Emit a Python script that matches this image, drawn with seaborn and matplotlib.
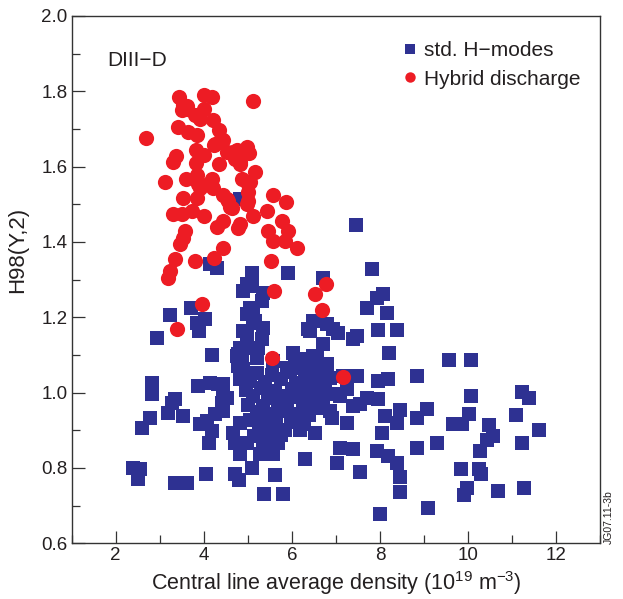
import matplotlib
matplotlib.use("Agg")
import matplotlib.pyplot as plt
from matplotlib.lines import Line2D
from matplotlib.ticker import MultipleLocator, FormatStrFormatter
import seaborn as sns
import pandas as pd

# ---- data ----
hmode_density = [
    7.46, 4.14, 4.30, 5.09, 4.98, 4.88, 5.09, 5.34, 5.32, 5.05, 4.98, 5.12, 5.16, 5.12, 4.88, 4.98,
    5.34, 5.32, 5.91, 6.71, 3.23, 3.71, 4.03, 3.85, 3.89, 2.94, 4.82, 6.48, 6.37, 6.80, 7.05, 7.39,
    7.82, 8.07, 7.93, 7.71, 8.16, 7.96, 8.39, 8.21, 4.19, 4.77, 4.86, 4.88, 4.82, 5.21, 5.23, 4.82,
    5.12, 4.75, 4.77, 6.03, 6.25, 6.41, 6.71, 6.94, 6.57, 6.80, 6.07, 5.89, 6.18, 6.41, 6.48, 6.64,
    6.87, 7.32, 7.16, 7.48, 7.96, 8.18, 8.84, 9.57, 10.07, 7.48, 5.57,
    3.87, 4.14, 4.32, 4.44, 4.53, 4.41, 4.25, 4.07, 3.91, 4.19, 4.12, 2.82, 2.82, 3.35, 3.28, 3.19,
    3.53, 2.78, 2.60, 4.82, 4.66, 4.71, 4.82, 4.98, 5.28, 5.57, 5.57, 6.30, 6.53, 7.03, 7.09, 7.39,
    2.39, 2.55, 2.51, 3.35, 3.62, 4.05, 4.71, 4.80, 5.09, 5.62, 5.37, 5.80, 4.44, 4.44, 6.64, 6.71,
    6.87, 6.94, 6.75, 7.09, 7.25, 7.71, 7.96, 7.39, 7.55, 8.12, 8.46, 8.39, 8.84, 9.07, 8.05, 6.91,
    7.25, 7.93, 8.18, 8.39, 7.55, 8.46, 8.46, 8.84, 9.30, 8.00, 9.09, 10.07, 11.23, 11.39, 10.02,
    9.66, 9.86, 10.48, 10.57, 10.43, 10.27, 11.10, 11.62, 11.23, 9.84, 10.25, 10.30, 9.98, 9.91,
    10.69, 11.28,
    5.20, 5.55, 5.95, 6.30, 6.50, 5.05, 5.40, 5.75, 6.10, 6.42, 4.95, 5.30, 5.62, 6.00, 6.33, 6.58,
    5.12, 5.45, 5.82, 6.15, 6.45, 5.00, 5.35, 5.68, 5.88, 6.25, 6.55, 5.20, 5.52, 5.80, 6.12, 6.40,
    5.05, 5.35, 5.65, 5.98, 6.28, 5.25, 5.55, 5.85, 6.18, 5.15, 5.45, 5.75, 5.35, 5.68,
]
hmode_h98 = [
    1.444, 1.341, 1.330, 1.317, 1.288, 1.269, 1.283, 1.264, 1.243, 1.225, 1.209, 1.209, 1.190, 1.185, 1.164, 1.156,
    1.172, 1.142, 1.317, 1.304, 1.206, 1.225, 1.195, 1.185, 1.164, 1.145, 1.513, 1.190, 1.169, 1.182, 1.158, 1.142,
    1.328, 1.262, 1.251, 1.225, 1.211, 1.166, 1.166, 1.105, 1.100, 1.103, 1.084, 1.063, 1.037, 1.092, 1.119, 1.119,
    1.119, 1.097, 1.071, 1.105, 1.090, 1.164, 1.129, 1.169, 1.092, 1.076, 1.084, 1.066, 1.066, 1.084, 1.097, 1.050,
    1.039, 1.045, 1.045, 1.045, 1.031, 1.037, 1.045, 1.087, 1.087, 1.150, 1.084,
    1.018, 1.026, 1.023, 1.005, 0.986, 0.973, 0.944, 0.925, 0.918, 0.899, 0.867, 1.026, 0.997, 0.984, 0.973, 0.947,
    0.939, 0.933, 0.907, 0.920, 0.894, 0.865, 0.838, 0.867, 0.838, 0.838, 0.865, 0.825, 0.894, 0.814, 0.854, 0.851,
    0.801, 0.798, 0.772, 0.759, 0.761, 0.783, 0.785, 0.767, 0.801, 0.780, 0.732, 0.732, 1.023, 0.952, 1.013, 0.970,
    0.952, 0.997, 1.005, 0.992, 1.010, 0.986, 0.984, 0.965, 0.970, 0.939, 0.955, 0.920, 0.933, 0.957, 0.894, 0.933,
    0.920, 0.846, 0.833, 0.814, 0.788, 0.777, 0.735, 0.854, 0.867, 0.679, 0.695, 0.992, 1.002, 0.986, 0.944,
    0.918, 0.918, 0.915, 0.886, 0.873, 0.846, 0.941, 0.902, 0.865, 0.798, 0.798, 0.785, 0.748, 0.727,
    0.740, 0.746,
    1.052, 1.048, 1.055, 1.050, 1.060, 1.030, 1.028, 1.035, 1.025, 1.030, 1.008, 1.012, 1.005, 1.010, 1.003, 0.998,
    0.990, 0.985, 0.992, 0.988, 0.980, 0.968, 0.965, 0.970, 0.975, 0.966, 0.958, 0.948, 0.944, 0.950, 0.942, 0.940,
    0.928, 0.925, 0.930, 0.922, 0.918, 0.905, 0.908, 0.902, 0.900, 0.885, 0.882, 0.888, 0.862, 0.866,
]

hybrid_density = [
    2.69, 3.44, 4.00, 4.19, 5.12, 3.53, 3.62, 4.00, 3.41, 3.64, 3.85, 4.21, 4.35, 4.39, 4.23, 3.82,
    4.00, 3.37, 3.30, 3.82, 4.35, 4.62, 4.75, 4.71, 4.82, 4.98, 5.03, 5.16, 3.12, 3.60, 3.85, 3.87,
    3.91, 4.19, 4.10, 4.86, 5.05, 5.00, 5.00, 4.21, 4.44, 4.55, 3.53, 3.85, 3.30, 3.51, 3.73, 4.00,
    4.60, 5.57, 5.87, 5.44, 5.12, 4.44, 4.30, 4.82, 4.77, 5.78, 5.46, 5.57, 5.91, 5.84, 6.11, 3.57,
    3.53, 3.46, 3.35, 3.23, 3.19, 3.80, 4.23, 4.44, 5.53, 5.60, 6.53, 6.78, 3.96, 3.39, 6.69, 5.55,
    7.16, 3.51, 3.62, 3.80, 3.91, 4.25, 4.44, 4.53, 4.66, 4.82, 4.98, 5.00, 4.53, 4.64,
]
hybrid_h98 = [
    1.677, 1.785, 1.790, 1.785, 1.775, 1.764, 1.754, 1.754, 1.706, 1.693, 1.685, 1.725, 1.698, 1.674, 1.658, 1.645,
    1.632, 1.629, 1.613, 1.611, 1.608, 1.635, 1.645, 1.619, 1.608, 1.653, 1.637, 1.587, 1.560, 1.566, 1.579, 1.555,
    1.542, 1.568, 1.555, 1.568, 1.560, 1.534, 1.508, 1.542, 1.526, 1.508, 1.516, 1.516, 1.473, 1.473, 1.481, 1.468,
    1.494, 1.526, 1.505, 1.481, 1.468, 1.455, 1.441, 1.449, 1.436, 1.457, 1.428, 1.402, 1.428, 1.402, 1.383, 1.428,
    1.410, 1.394, 1.354, 1.322, 1.304, 1.349, 1.357, 1.383, 1.349, 1.269, 1.262, 1.288, 1.235, 1.169, 1.219, 1.092,
    1.042, 1.751, 1.762, 1.738, 1.727, 1.661, 1.672, 1.640, 1.640, 1.613, 1.502, 1.553, 1.513, 1.489,
]

x_ticks = [2, 4, 6, 8, 10, 12]
y_ticks = [0.6, 0.8, 1.0, 1.2, 1.4, 1.6, 1.8, 2.0]
series_labels = ["std. H\u2212modes", "Hybrid discharge"]

BLUE = "#2E3192"
RED = "#ED1C24"
TXT = "#231F20"

sns.set_theme(style="white")
plt.rcParams["font.family"] = ["Liberation Sans", "DejaVu Sans"]
plt.rcParams["mathtext.fontset"] = "custom"
plt.rcParams["mathtext.rm"] = "Liberation Sans"

df_h = pd.DataFrame({"density": hmode_density, "h98": hmode_h98})
df_y = pd.DataFrame({"density": hybrid_density, "h98": hybrid_h98})

fig = plt.figure(figsize=(6.23, 5.99), dpi=100)
ax = fig.add_axes([0.1151, 0.0930, 0.9631 - 0.1151, 0.9733 - 0.0930])

sns.scatterplot(data=df_h, x="density", y="h98", marker="s", s=88, color=BLUE,
                linewidth=0, ax=ax, legend=False, zorder=2)
sns.scatterplot(data=df_y, x="density", y="h98", marker="o", s=120, color=RED,
                linewidth=0, ax=ax, legend=False, zorder=3)

ax.set_xlim(1, 13)
ax.set_ylim(0.6, 2.0)
ax.set_xticks(x_ticks)
ax.set_yticks(y_ticks)
ax.xaxis.set_minor_locator(MultipleLocator(1))
ax.yaxis.set_minor_locator(MultipleLocator(0.1))
ax.yaxis.set_major_formatter(FormatStrFormatter("%.1f"))
ax.tick_params(which="both", direction="in", colors="#333333", width=0.9,
               labelcolor=TXT, labelsize=13.5, bottom=True, left=True,
               top=False, right=False)
ax.tick_params(which="major", length=9, pad=3)
ax.tick_params(which="minor", length=6)
for sp in ax.spines.values():
    sp.set_color("#333333")
    sp.set_linewidth(1.0)
    sp.set_visible(True)

ax.set_xlabel("Central line average density (10$^{19}$ m$^{-3}$)", fontsize=15.5, color=TXT, labelpad=3)
ax.set_ylabel("H98(Y,2)", fontsize=16, color=TXT)
ax.yaxis.set_label_coords(-0.083, 0.556)

ax.text(0.068, 0.915, "DIII\u2212D", transform=ax.transAxes, fontsize=15, color=TXT,
        ha="left", va="center")

handles = [
    Line2D([], [], marker="s", linestyle="none", color=BLUE, markersize=7, markeredgewidth=0),
    Line2D([], [], marker="o", linestyle="none", color=RED, markersize=7.5, markeredgewidth=0),
]
ax.legend(handles, series_labels, loc="upper left", bbox_to_anchor=(0.605, 0.968),
          frameon=False, fontsize=15, handletextpad=0.15, handlelength=1.0,
          labelspacing=0.45, labelcolor=TXT, borderaxespad=0)

fig.text(0.978, 0.092, "JG07.11-3b", rotation=90, fontsize=7.5, color=TXT,
         ha="center", va="bottom")

fig.savefig("out.png", dpi=100, facecolor="white")
